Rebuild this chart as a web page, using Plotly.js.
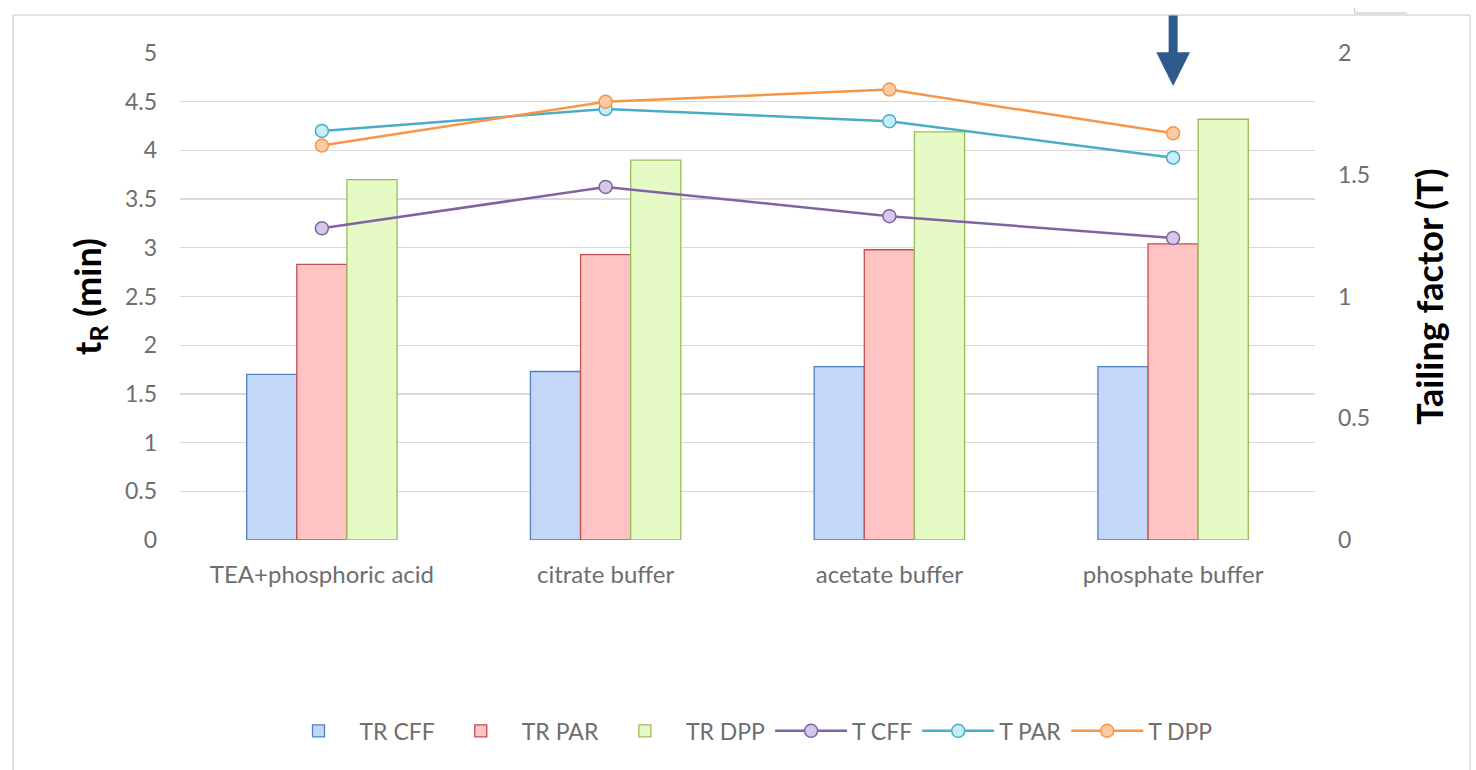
<!DOCTYPE html>
<html>
<head>
<meta charset="utf-8">
<script src="https://cdn.plot.ly/plotly-3.0.1.min.js"></script>
<style>html,body{margin:0;padding:0;background:#fff;}#chart{width:1476px;height:770px;}</style>
</head>
<body>
<div id="chart"></div>
<script>
const categories = ["TEA+phosphoric acid", "citrate buffer", "acetate buffer", "phosphate buffer"];
const trCFF = [1.70, 1.73, 1.78, 1.78];
const trPAR = [2.83, 2.93, 2.98, 3.04];
const trDPP = [3.70, 3.90, 4.19, 4.32];
const tCFF = [1.28, 1.45, 1.33, 1.24];
const tPAR = [1.68, 1.77, 1.72, 1.57];
const tDPP = [1.62, 1.80, 1.85, 1.67];
const leftTicks = [0, 0.5, 1, 1.5, 2, 2.5, 3, 3.5, 4, 4.5, 5];
const rightTicks = [0, 0.5, 1, 1.5, 2];

const FONT = "Lato, 'Open Sans', sans-serif";
const GRAY = "#6e6e6e";

function bar(name, y, fill, line) {
  return {type: "bar", name: name, x: categories, y: y, yaxis: "y",
    marker: {color: fill, line: {color: line, width: 1.3}}, hoverinfo: "y"};
}
function line(name, y, color, fill) {
  return {type: "scatter", mode: "lines+markers", name: name, x: categories, y: y, yaxis: "y2",
    line: {color: color, width: 2.5},
    marker: {size: 13, color: fill, line: {color: color, width: 1.5}}};
}

const data = [
  bar("TR CFF", trCFF, "#c3d7f9", "#4f81bd"),
  bar("TR PAR", trPAR, "#ffc3c3", "#c0504d"),
  bar("TR DPP", trDPP, "#e6fac6", "#9bbb59"),
  line("T CFF", tCFF, "#8064a2", "#d5c8e8"),
  line("T PAR", tPAR, "#4bacc6", "#c6eef9"),
  line("T DPP", tDPP, "#f79646", "#fccaa3")
];

const layout = {
  width: 1476, height: 770,
  paper_bgcolor: "#ffffff", plot_bgcolor: "#ffffff",
  margin: {l: 180, r: 161, t: 53, b: 230},
  font: {family: FONT, color: GRAY, size: 23},
  barmode: "group", bargap: 0.47, bargroupgap: 0,
  showlegend: true,
  legend: {orientation: "h", x: 0.5, xanchor: "center", y: -0.392, yanchor: "middle",
    font: {size: 23, color: GRAY, family: FONT}, traceorder: "normal", itemwidth: 72},
  xaxis: {type: "category", range: [-0.5, 3.5], showgrid: false, zeroline: false,
    showline: false, ticks: "", tickfont: {size: 24, color: GRAY}, ticklabelstandoff: 18},
  yaxis: {range: [0, 5], tickvals: leftTicks, ticktext: leftTicks.map(String),
    showgrid: true, gridcolor: "#d9d9d9", gridwidth: 1.3, zeroline: false, showline: false,
    ticks: "", tickfont: {size: 23, color: GRAY}, ticklabelstandoff: 22,
    title: {text: "<b>t<sub>R</sub> (min)</b>", font: {size: 36, color: "#000000", family: FONT}, standoff: 12}},
  yaxis2: {range: [0, 2], overlaying: "y", side: "right", tickvals: rightTicks,
    ticktext: rightTicks.map(String), showgrid: false, zeroline: false, showline: false,
    ticks: "", tickfont: {size: 23, color: GRAY}, ticklabelstandoff: 22,
    title: {text: "<b>Tailing factor (T)</b>", font: {size: 36, color: "#000000", family: FONT}, standoff: 48}},
  shapes: [
    {type: "line", xref: "paper", yref: "paper", x0: -0.147, x1: 1.1366, y0: 1.078, y1: 1.078,
      line: {color: "#d9d9d9", width: 1.5}},
    {type: "line", xref: "paper", yref: "paper", x0: -0.147, x1: -0.147, y0: 1.078, y1: -0.48,
      line: {color: "#d9d9d9", width: 1.5}},
    {type: "line", xref: "paper", yref: "paper", x0: 1.1366, x1: 1.1366, y0: 1.078, y1: -0.48,
      line: {color: "#d9d9d9", width: 1.5}},
    {type: "line", xref: "paper", yref: "paper", x0: 1.035, x1: 1.081, y0: 1.082, y1: 1.082,
      line: {color: "#bfbfbf", width: 1}},
    {type: "line", xref: "paper", yref: "paper", x0: 1.035, x1: 1.035, y0: 1.082, y1: 1.092,
      line: {color: "#bfbfbf", width: 1}}
  ],
  annotations: [
    {xref: "x", yref: "paper", x: 3, y: 0.932, ax: 0, ay: -72, text: "", showarrow: true,
      arrowhead: 2, arrowsize: 0.75, arrowwidth: 9, arrowcolor: "#2f5b8c"}
  ]
};

Plotly.newPlot("chart", data, layout, {displayModeBar: false, staticPlot: true});
</script>
</body>
</html>
